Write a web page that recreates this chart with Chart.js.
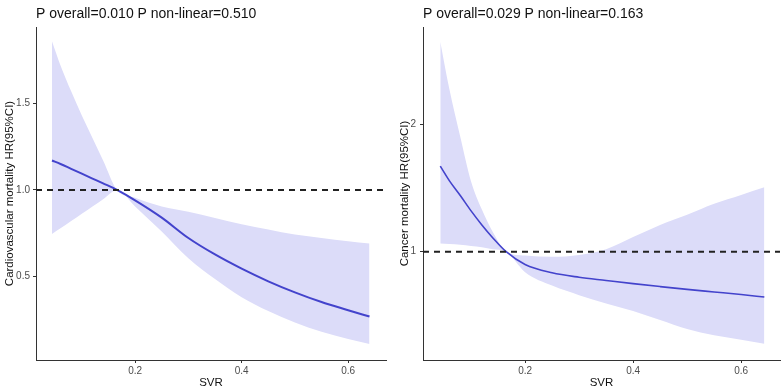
<!DOCTYPE html>
<html>
<head>
<meta charset="utf-8">
<script src="https://cdn.jsdelivr.net/npm/chart.js@4.4.1/dist/chart.umd.min.js"></script>
<style>
  html, body { margin: 0; padding: 0; background: #fff; }
  #wrap { position: relative; width: 783px; height: 392px; }
  #c1 { position: absolute; left: 0; top: 0; }
  #c2 { position: absolute; left: 390px; top: 0; }
</style>
</head>
<body>
<div id="wrap">
  <canvas id="c1" width="390" height="392"></canvas>
  <canvas id="c2" width="393" height="392"></canvas>
</div>
<script>
// ---- Cardiovascular mortality panel ----
const cvdTitle = "P overall=0.010 P non-linear=0.510";
const cvdYLabel = "Cardiovascular mortality HR(95%CI)";
const cvdX     = [0.044, 0.06, 0.08, 0.10, 0.12, 0.14, 0.166, 0.20, 0.25, 0.30, 0.35, 0.40, 0.45, 0.50, 0.55, 0.60, 0.64];
const cvdHR    = [1.170, 1.150, 1.122, 1.094, 1.066, 1.038, 1.000, 0.940, 0.840, 0.722, 0.627, 0.545, 0.472, 0.408, 0.352, 0.305, 0.268];
const cvdUpper = [1.860, 1.720, 1.570, 1.430, 1.300, 1.170, 1.000, 0.955, 0.905, 0.874, 0.838, 0.802, 0.772, 0.742, 0.722, 0.703, 0.690];
const cvdLower = [0.745, 0.778, 0.820, 0.862, 0.904, 0.946, 1.000, 0.905, 0.760, 0.605, 0.485, 0.380, 0.300, 0.234, 0.180, 0.138, 0.110];
const cvdYTicks = [0.5, 1.0, 1.5];

// ---- Cancer mortality panel ----
const canTitle = "P overall=0.029 P non-linear=0.163";
const canYLabel = "Cancer mortality HR(95%CI)";
const canX     = [0.043, 0.06, 0.08, 0.10, 0.12, 0.14, 0.165, 0.20, 0.25, 0.30, 0.35, 0.40, 0.45, 0.50, 0.55, 0.60, 0.643];
const canHR    = [1.670, 1.555, 1.440, 1.320, 1.210, 1.110, 1.000, 0.900, 0.835, 0.800, 0.775, 0.750, 0.727, 0.705, 0.685, 0.665, 0.645];
const canUpper = [2.645, 2.270, 1.900, 1.550, 1.330, 1.157, 1.000, 0.970, 0.960, 0.975, 1.020, 1.115, 1.210, 1.290, 1.376, 1.445, 1.505];
const canLower = [1.065, 1.060, 1.055, 1.045, 1.035, 1.020, 1.000, 0.840, 0.735, 0.660, 0.595, 0.535, 0.465, 0.395, 0.345, 0.310, 0.280];
const canYTicks = [1, 2];

const xTicks = [0.2, 0.4, 0.6];
const xLabel = "SVR";
const refHR = 1;

const FONT = "'Liberation Sans', Arial, Helvetica, sans-serif";
const LINE_COLOR = '#4343CC';
const BAND_COLOR = '#DCDCF9';

const panelTitlePlugin = {
  id: 'panelTitle',
  afterDraw(chart, args, opts) {
    const ctx = chart.ctx;
    ctx.save();
    ctx.font = '14px ' + FONT;
    ctx.fillStyle = '#111';
    ctx.textAlign = 'left';
    ctx.textBaseline = 'alphabetic';
    ctx.fillText(opts.text, chart.chartArea.left, 18);
    ctx.restore();
  }
};

function pts(xs, ys) { return xs.map((x, i) => ({ x: x, y: ys[i] })); }

function makeChart(id, cfg) {
  return new Chart(document.getElementById(id), {
    type: 'line',
    data: {
      datasets: [
        { data: [{ x: cfg.xmin, y: refHR }, { x: cfg.xmax, y: refHR }],
          borderColor: '#222', borderWidth: 2, borderDash: [6, 5],
          pointRadius: 0, fill: false },
        { data: pts(cfg.x, cfg.hr), borderColor: LINE_COLOR, borderWidth: cfg.lw,
          pointRadius: 0, fill: false, cubicInterpolationMode: 'monotone' },
        { data: pts(cfg.x, cfg.upper), borderWidth: 0, borderColor: 'rgba(0,0,0,0)',
          pointRadius: 0, fill: false, cubicInterpolationMode: 'monotone' },
        { data: pts(cfg.x, cfg.lower), borderWidth: 0, borderColor: 'rgba(0,0,0,0)',
          pointRadius: 0, fill: '-1', backgroundColor: BAND_COLOR, cubicInterpolationMode: 'monotone' }
      ]
    },
    options: {
      responsive: false,
      animation: false,
      devicePixelRatio: 1,
      layout: { padding: { top: 27, right: cfg.padRight, left: 0, bottom: 0 } },
      plugins: {
        legend: { display: false },
        tooltip: { enabled: false },
        panelTitle: { text: cfg.title }
      },
      scales: {
        x: {
          type: 'linear', min: cfg.xmin, max: cfg.xmax,
          afterBuildTicks: s => { s.ticks = xTicks.map(v => ({ value: v })); },
          afterFit: s => { s.height = 32; },
          grid: { drawOnChartArea: false, drawTicks: true, tickLength: 3, color: '#333' },
          border: { display: true, color: '#333', width: 1 },
          ticks: { color: '#4d4d4d', font: { family: FONT, size: 10 }, padding: 2,
                   callback: v => v.toFixed(1), maxRotation: 0 },
          title: { display: true, text: xLabel, color: '#111',
                   font: { family: FONT, size: 11.5 }, padding: { top: 0, bottom: 2 } }
        },
        y: {
          type: 'linear', min: cfg.ymin, max: cfg.ymax,
          afterBuildTicks: s => { s.ticks = cfg.yTicks.map(v => ({ value: v })); },
          afterFit: s => { s.width = cfg.yWidth; },
          grid: { drawOnChartArea: false, drawTicks: true, tickLength: 3, color: '#333' },
          border: { display: true, color: '#333', width: 1 },
          ticks: { color: '#4d4d4d', font: { family: FONT, size: 10 }, padding: cfg.tickPad,
                   callback: cfg.fmt },
          title: { display: true, text: cfg.ylabel, color: '#111',
                   font: { family: FONT, size: 11.5 }, padding: { top: cfg.titlePad, bottom: 0 } }
        }
      }
    },
    plugins: [panelTitlePlugin]
  });
}

makeChart('c1', {
  title: cvdTitle, ylabel: cvdYLabel,
  x: cvdX, hr: cvdHR, upper: cvdUpper, lower: cvdLower, yTicks: cvdYTicks,
  xmin: 0.014, xmax: 0.671, ymin: 0.017, ymax: 1.942,
  yWidth: 36, padRight: 4, tickPad: 3, titlePad: 3, lw: 2,
  fmt: v => v.toFixed(1)
});

makeChart('c2', {
  title: canTitle, ylabel: canYLabel,
  x: canX, hr: canHR, upper: canUpper, lower: canLower, yTicks: canYTicks,
  xmin: 0.011, xmax: 0.672, ymin: 0.152, ymax: 2.76,
  yWidth: 33, padRight: 3, tickPad: 4, titlePad: 8, lw: 1.6,
  fmt: v => String(Math.round(v))
});
</script>
</body>
</html>
